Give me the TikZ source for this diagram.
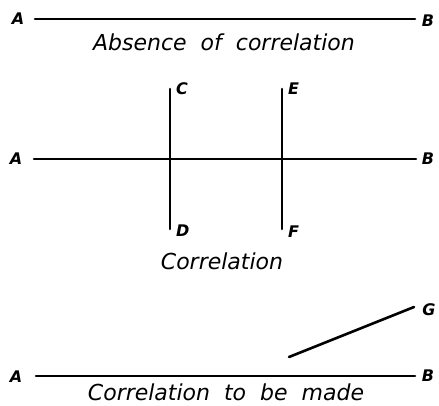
\documentclass[tikz,border=0pt]{standalone}
\usepackage{fontspec}
\setmainfont{DejaVu Sans}
\begin{document}
\begin{tikzpicture}[x=1pt,y=1pt,
  ln/.style={line width=2.6pt,line cap=round},
  lbl/.style={font=\fontsize{16}{16}\selectfont\bfseries\itshape,inner sep=0pt},
  captxt/.style={font=\fontsize{22}{22}\selectfont\itshape,inner sep=0pt}]
\useasboundingbox (0,0) rectangle (439,405);
% top
\node[lbl] (a1) at (18,386) {A};
\node[lbl] (b1) at (428,384) {B};
\coordinate (a1e) at (35,386);
\coordinate (b1e) at (415,386);
\draw[ln] (a1e) -- (b1e);
\node[captxt] (t1) at (224,363) {Absence \ of \ correlation};
% middle
\node[lbl] (a2) at (16,246) {A};
\node[lbl] (b2) at (428,246) {B};
\coordinate (a2e) at (34,246);
\coordinate (b2e) at (416,246);
\draw[ln] (a2e) -- (b2e);
\coordinate (c) at (170,316);
\coordinate (d) at (170,176);
\coordinate (e) at (282,316);
\coordinate (f) at (282,176);
\draw[ln] (c) -- (d);
\draw[ln] (e) -- (f);
\node[lbl,anchor=west] (lc) at (176,316) {C};
\node[lbl,anchor=west] (le) at (288,316) {E};
\node[lbl,anchor=west] (ld) at (176,174) {D};
\node[lbl,anchor=west] (lf) at (288,173) {F};
\node[captxt] (t2) at (222,144) {Correlation};
% bottom
\node[lbl] (a3) at (16,28) {A};
\node[lbl] (b3) at (428,29) {B};
\coordinate (a3e) at (36,29);
\coordinate (b3e) at (415,29);
\draw[ln] (a3e) -- (b3e);
\coordinate (g1) at (289,48);
\coordinate (g2) at (414,98);
\draw[ln] (g1) -- (g2);
\node[lbl] (lg) at (429,95) {G};
\node[captxt] (t3) at (226,13) {Correlation \ to \ be \ made};
\end{tikzpicture}
\end{document}
